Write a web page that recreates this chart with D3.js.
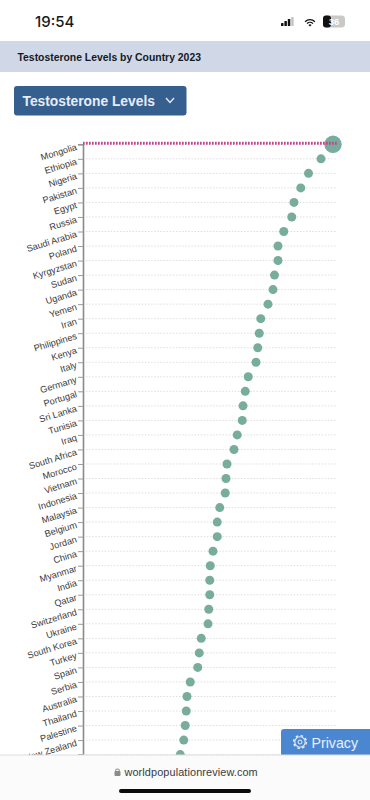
<!DOCTYPE html>
<html>
<head>
<meta charset="utf-8">
<title>Testosterone Levels by Country 2023</title>
<script src="https://cdn.jsdelivr.net/npm/d3@7"></script>
<style>
html, body { margin: 0; padding: 0; background: #fff; overflow: hidden; }
svg { display: block; }
text { font-family: "Liberation Sans", Arial, sans-serif; }
</style>
</head>
<body>
<svg id="chart" width="370" height="800"></svg>
<script>
// country order as listed on the chart, last one is cut off by the browser bar
var countries = ['Mongolia', 'Ethiopia', 'Nigeria', 'Pakistan', 'Egypt', 'Russia', 'Saudi Arabia', 'Poland',
    'Kyrgyzstan', 'Sudan', 'Uganda', 'Yemen', 'Iran', 'Philippines', 'Kenya', 'Italy', 'Germany', 'Portugal',
    'Sri Lanka', 'Tunisia', 'Iraq', 'South Africa', 'Morocco', 'Vietnam', 'Indonesia', 'Malaysia', 'Belgium',
    'Jordan', 'China', 'Myanmar', 'India', 'Qatar', 'Switzerland', 'Ukraine', 'South Korea', 'Turkey', 'Spain',
    'Serbia', 'Australia', 'Thailand', 'Palestine', 'New Zealand', ''];

// no value axis visible in the picture, so these are relative to Mongolia = 100
var levels = [100, 95.2, 90.2, 87.1, 84.4, 83.5, 80.3, 78, 78, 76.6, 76, 74, 71.1, 70.5, 69.9, 69.2, 66.1, 64.9,
    64, 63.7, 61.7, 60.4, 57.6, 57.2, 56.9, 54.7, 53.7, 53.7, 52, 50.9, 50.7, 50.7, 50.3, 50, 47.3, 46.5, 45.9,
    42.9, 41.6, 41.3, 40.9, 40.3, 38.9];

var svg = d3.select('#chart');

var x = d3.scaleLinear().domain([0, 100]).range([83, 333]);
var y = d3.scalePoint().domain(d3.range(countries.length)).range([144.3, 754.6]);

// status bar
svg.append('text').attr('x', 35).attr('y', 27).attr('font-size', 15).attr('font-weight', 500)
    .style('font-family', 'Inter').attr('fill', '#1a1a1a').text('19:54');
var signal = [3, 5, 7, 9];
svg.selectAll('.signal').data(signal).enter().append('rect')
    .attr('x', function(d, i) { return 281 + i * 3.4; })
    .attr('y', function(d) { return 26 - d; })
    .attr('width', 2.5).attr('height', function(d) { return d; })
    .attr('rx', 0.6)
    .attr('fill', function(d, i) { return i == 3 ? '#c4c4c4' : '#111'; });
[7.5, 4.8, 2].forEach(function(r, i) {
    var arc = d3.arc().innerRadius(r - 1.3).outerRadius(r).startAngle(-0.8).endAngle(0.8);
    if (i == 2) arc = d3.arc().innerRadius(0).outerRadius(2.2).startAngle(-0.8).endAngle(0.8);
    svg.append('path').attr('transform', 'translate(310,26.5)').attr('d', arc()).attr('fill', '#111');
});
svg.append('rect').attr('x', 323).attr('y', 15.5).attr('width', 22).attr('height', 12).attr('rx', 3.5).attr('fill', '#c9c9c9');
svg.append('rect').attr('x', 323).attr('y', 15.5).attr('width', 8).attr('height', 12).attr('rx', 3).attr('fill', '#111');
svg.append('text').attr('x', 334).attr('y', 25).attr('text-anchor', 'middle').attr('font-size', 9.5)
    .attr('font-weight', 700).attr('fill', '#fff').text('36');

// title band
svg.append('rect').attr('x', 0).attr('y', 41).attr('width', 370).attr('height', 31).attr('fill', '#d0d8e7');
svg.append('text').attr('x', 17.5).attr('y', 61).attr('font-size', 10.4).attr('font-weight', 700)
    .attr('fill', '#15181f').text('Testosterone Levels by Country 2023');

// dropdown button
svg.append('rect').attr('x', 14).attr('y', 86).attr('width', 172.5).attr('height', 29.5).attr('rx', 3).attr('fill', '#355f8f');
svg.append('text').attr('x', 22.5).attr('y', 106).attr('font-size', 13.8).attr('font-weight', 700)
    .attr('fill', '#e6edf5').text('Testosterone Levels');
svg.append('path').attr('d', d3.line()([[166, 98], [170, 102.5], [174, 98]])).attr('fill', 'none')
    .attr('stroke', '#e6edf5').attr('stroke-width', 1.4);

// grid rows
svg.selectAll('.grid').data(countries.slice(1)).enter().append('line')
    .attr('class', 'grid')
    .attr('x1', 86).attr('x2', 337)
    .attr('y1', function(d, i) { return y(i + 1); })
    .attr('y2', function(d, i) { return y(i + 1); })
    .attr('stroke', '#dedede').attr('stroke-width', 1).attr('stroke-dasharray', '1.5,1.6');

// axis with slanted country labels
var yAxis = d3.axisLeft(y).tickSize(5).tickPadding(2).tickFormat(function(i) { return countries[i]; });
var axisG = svg.append('g').attr('transform', 'translate(83,0)').call(yAxis);
axisG.select('.domain').attr('stroke', '#8a8a8a').attr('stroke-width', 1.6);
axisG.selectAll('.tick line').attr('stroke', '#9a9a9a');
axisG.selectAll('.tick text')
    .attr('font-size', 9.2)
    .style('font-family', '"Liberation Sans", Arial, sans-serif')
    .attr('fill', '#3a3a3a')
    .attr('dy', '0.55em')
    .attr('transform', 'rotate(-17,-7,0)');

// dots
svg.selectAll('.dot').data(levels).enter().append('circle')
    .attr('class', 'dot')
    .attr('cx', function(d) { return x(d); })
    .attr('cy', function(d, i) { return y(i); })
    .attr('r', function(d, i) { return i == 0 ? 8.7 : 4.5; })
    .attr('fill', '#78ac9c');

// highlighted row on top of the biggest dot
svg.append('line').attr('x1', 83).attr('x2', 337).attr('y1', 143.2).attr('y2', 143.2)
    .attr('stroke', '#c2448f').attr('stroke-width', 3).attr('stroke-dasharray', '1.7,1.3');

// privacy button
svg.append('rect').attr('x', 281).attr('y', 729).attr('width', 95).attr('height', 30).attr('rx', 3).attr('fill', '#4b87d1');
svg.append('circle').attr('cx', 300).attr('cy', 742).attr('r', 5.2).attr('fill', 'none').attr('stroke', '#e8f0fa')
    .attr('stroke-width', 1.1);
svg.append('circle').attr('cx', 300).attr('cy', 742).attr('r', 6.4).attr('fill', 'none').attr('stroke', '#e8f0fa')
    .attr('stroke-width', 1.4).attr('stroke-dasharray', '2.5,2.5');
svg.append('circle').attr('cx', 300).attr('cy', 742).attr('r', 2).attr('fill', 'none').attr('stroke', '#e8f0fa')
    .attr('stroke-width', 1);
svg.append('text').attr('x', 311.5).attr('y', 747.5).attr('font-size', 14.2).attr('fill', '#e8f0fa').text('Privacy');

// browser bar
svg.append('rect').attr('x', 0).attr('y', 755).attr('width', 370).attr('height', 45).attr('fill', '#fbfbfb');
svg.append('line').attr('x1', 0).attr('x2', 370).attr('y1', 755).attr('y2', 755).attr('stroke', '#dedede');
svg.append('rect').attr('x', 114.5).attr('y', 771).attr('width', 6).attr('height', 5).attr('rx', 1).attr('fill', '#8a8a8a');
svg.append('path').attr('d', d3.arc().innerRadius(1.4).outerRadius(2.4).startAngle(-Math.PI / 2).endAngle(Math.PI / 2)())
    .attr('transform', 'translate(117.5,771)').attr('fill', '#8a8a8a');
svg.append('text').attr('x', 124.5).attr('y', 776).attr('font-size', 10.9).attr('fill', '#3a3a3a')
    .style('letter-spacing', '0.1px').text('worldpopulationreview.com');
svg.append('rect').attr('x', 119).attr('y', 789).attr('width', 132).attr('height', 4).attr('rx', 2).attr('fill', '#0b0b0b');
</script>
</body>
</html>
